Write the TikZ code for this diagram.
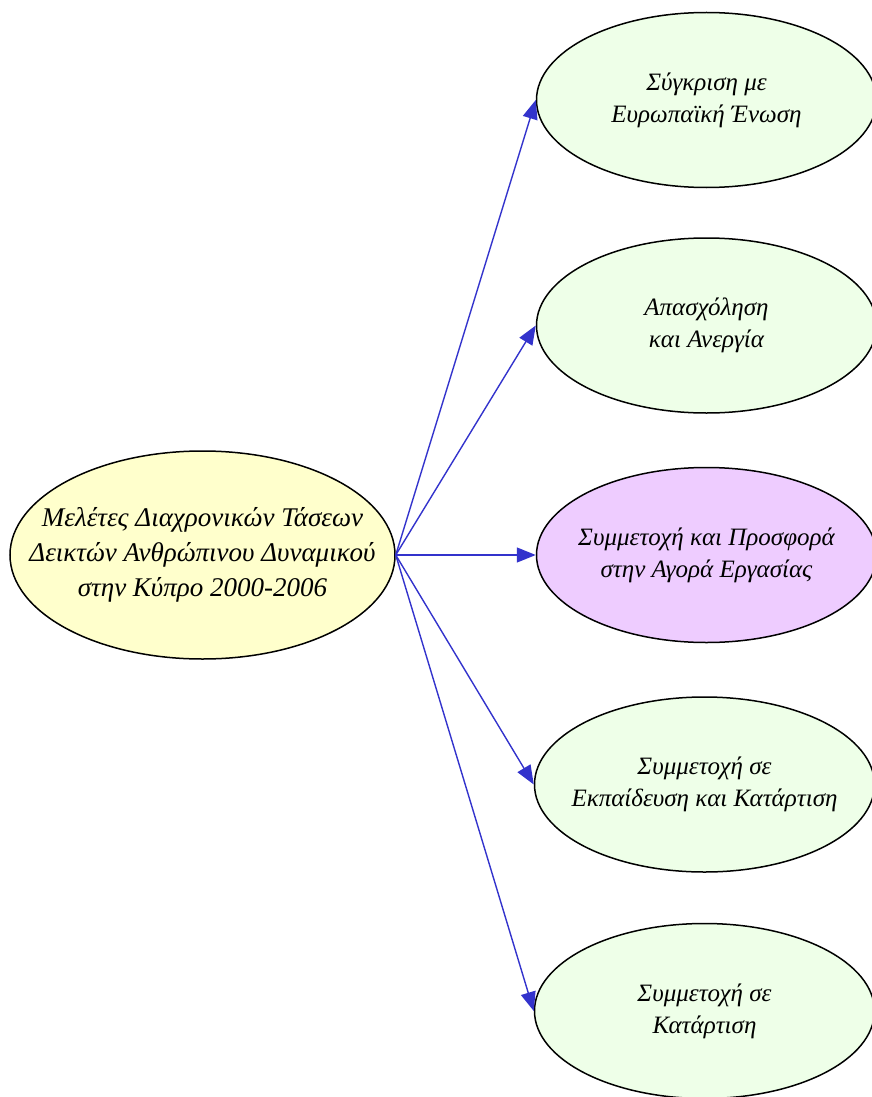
\documentclass[tikz,border=0pt]{standalone}
\usepackage{fontspec}
\setmainfont{Liberation Serif}
\usetikzlibrary{shapes,positioning,arrows.meta}
\definecolor{rootfill}{HTML}{FFFFCC}
\definecolor{topicfill}{HTML}{EEFFE8}
\definecolor{focusfill}{HTML}{EECCFF}
\definecolor{linkblue}{HTML}{3333CC}
\tikzset{study/.style={draw=black, ellipse, line width=1.5pt, fill=rootfill, minimum width=385pt, minimum height=208pt, inner sep=-60pt, align=center, font=\fontsize{27}{35}\selectfont\itshape}}
\tikzset{topic/.style={draw=black, ellipse, line width=1.5pt, fill=topicfill, minimum width=340pt, minimum height=175pt, inner sep=-60pt, align=center, font=\fontsize{25}{32}\selectfont\itshape}}
\tikzset{link/.style={draw=linkblue, line width=1.4pt, -{Triangle[length=19pt,width=15pt]}}}
\begin{document}
\begin{tikzpicture}[node distance=53pt and 140pt]
\useasboundingbox (0,0) rectangle (872pt,-1097pt);
\node[study] (study) at (202.5pt,-555pt) {Μελέτες Διαχρονικών Τάσεων\\Δεικτών Ανθρώπινου Δυναμικού\\στην Κύπρο 2000-2006};
\node[topic, fill=focusfill, right=of study] (labour) {Συμμετοχή και Προσφορά\\στην Αγορά Εργασίας};
\node[topic, above=of labour] (jobs) {Απασχόληση\\και Ανεργία};
\node[topic, above=49pt of jobs] (eu) {Σύγκριση με\\Ευρωπαϊκή Ένωση};
\node[topic, below=of labour, xshift=-2pt] (education) {Συμμετοχή σε\\Εκπαίδευση και Κατάρτιση};
\node[topic, below=50pt of education] (training) {Συμμετοχή σε\\Κατάρτιση};
\draw [link] (study.east) -- (eu.west);
\draw [link] (study.east) -- (jobs.west);
\draw [link] (study.east) -- (labour.west);
\draw [link] (study.east) -- (education.west);
\draw [link] (study.east) -- (training.west);
\end{tikzpicture}
\end{document}
